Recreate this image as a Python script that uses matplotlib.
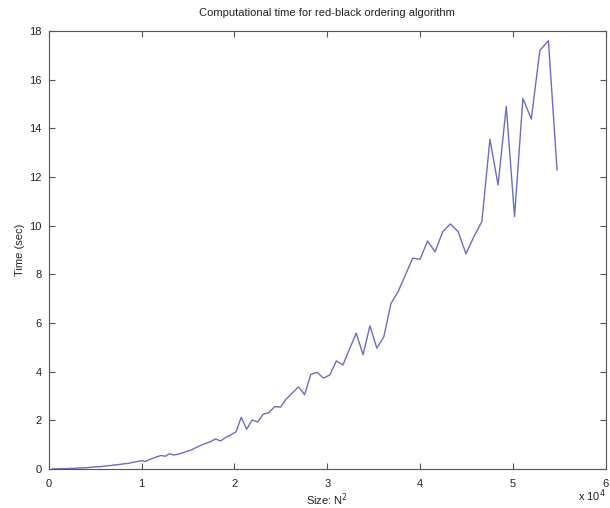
import matplotlib
matplotlib.use("Agg")
import matplotlib.pyplot as plt
from matplotlib.ticker import FuncFormatter

plt.rcParams['font.family'] = ['Liberation Sans', 'DejaVu Sans']

# grid sizes N (step 2) and measured run time in seconds
grid_n = list(range(20, 236, 2))
time_sec = [
    0.00, 0.00, 0.00, 0.00, 0.00, 0.00, 0.00, 0.01, 0.01, 0.01,   # N = 20..38
    0.01, 0.01, 0.01, 0.02, 0.02, 0.02, 0.02, 0.03, 0.03, 0.04,   # N = 40..58
    0.04, 0.05, 0.05, 0.06, 0.07, 0.08, 0.09, 0.09, 0.10, 0.12,   # N = 60..78
    0.13, 0.14, 0.16, 0.17, 0.19, 0.21, 0.22, 0.25, 0.28, 0.31,   # N = 80..98
    0.34, 0.30, 0.38, 0.44, 0.50, 0.55, 0.52, 0.62, 0.57, 0.60,   # N = 100..118
    0.66, 0.72, 0.78, 0.88, 0.97, 1.05, 1.12, 1.23, 1.15, 1.29,   # N = 120..138
    1.40, 1.52, 2.12, 1.63, 2.01, 1.93, 2.25, 2.31, 2.56, 2.54,   # N = 140..158
    2.88, 3.12, 3.37, 3.05, 3.88, 3.97, 3.73, 3.86, 4.44, 4.27,   # N = 160..178
    4.93, 5.58, 4.69, 5.88, 4.96, 5.44, 6.80, 7.29, 7.97, 8.66,   # N = 180..198
    8.62, 9.37, 8.92, 9.75, 10.07, 9.75, 8.84, 9.55, 10.16, 13.55,  # N = 200..218
    11.67, 14.90, 10.37, 15.23, 14.38, 17.20, 17.60, 12.29,       # N = 220..234
]
size_n2 = [n * n for n in grid_n]

fig = plt.figure(figsize=(6.10, 5.08), dpi=100)
ax = fig.add_axes([0.080, 0.077, 0.913, 0.862])

ax.plot(size_n2, time_sec, color='#6c6cc6', linewidth=1.0)

ax.set_xlim(0, 60000)
ax.set_ylim(0, 18)
ax.set_xticks(range(0, 60001, 10000))
ax.set_yticks(range(0, 19, 2))
ax.xaxis.set_major_formatter(FuncFormatter(lambda v, p: '%d' % round(v / 1e4)))

axis_col = '#555555'
for s in ax.spines.values():
    s.set_color(axis_col)
    s.set_linewidth(0.8)
ax.tick_params(direction='in', length=4, width=0.8, color=axis_col,
               labelsize=8, labelcolor='#222222', top=True, right=True)
ax.tick_params(axis='x', pad=7)
ax.tick_params(axis='y', pad=5)

ax.set_title('Computational time for red-black ordering algorithm', fontsize=8,
             color='#222222', pad=11)
ax.set_xlabel('Size: N$^2$', fontsize=8, color='#222222', labelpad=2)
ax.set_ylabel('Time (sec)', fontsize=8, color='#222222', labelpad=3)
fig.text(0.948, 0.008, 'x 10$^4$', fontsize=8, color='#222222', ha='left', va='bottom')

fig.savefig('out.png', dpi=100)
